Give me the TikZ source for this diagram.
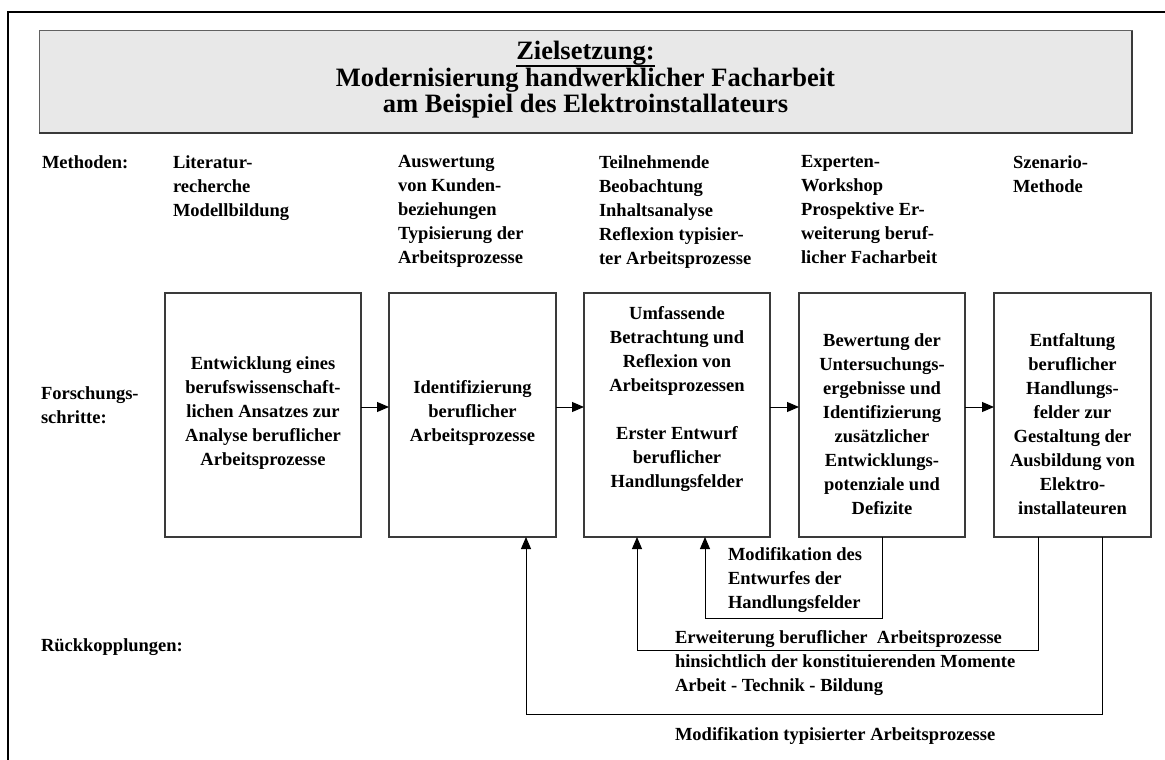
\documentclass[tikz,border=0pt]{standalone}
\usepackage{fontspec}
\setmainfont{Liberation Serif}
\usetikzlibrary{arrows.meta}
\definecolor{titlefill}{HTML}{E8E8E8}
\definecolor{edge}{HTML}{3A3A3A}
% underline drawn just below the descenders, without adding depth
\newcommand{\goalrule}[1]{{\setbox0\hbox{#1}\rlap{\rule[-6.8pt]{\wd0}{1.3pt}}\box0}}
\begin{document}
\begin{tikzpicture}[x=1pt,y=-1pt,
  every node/.style={inner sep=0pt, outer sep=0pt},
  lbl/.style={font=\fontsize{18.5}{24}\selectfont\bfseries, align=left, anchor=north west},
  boxtext/.style={font=\fontsize{18.5}{24}\selectfont\bfseries, align=center, anchor=north},
  stepbox/.style={draw=edge, line width=1.2pt, rectangle, anchor=north west, minimum height=244pt},
  tip/.style={-{Triangle[length=12pt,width=10pt]}},
  link/.style={line width=1pt, tip},
  fb/.style={line width=0.9pt, tip}
]
\useasboundingbox (0,0) rectangle (1165,760);

% outer frame (runs past the right and bottom edges)
\draw[line width=2pt] (8,775) -- (8,12) -- (1180,12);

% goal banner
\node[draw=edge!80, line width=1pt, fill=titlefill, minimum width=1093pt, minimum height=102pt, anchor=north west] (goal) at (39,31) {};
\draw[line width=2pt, edge] (goal.south west) -- (goal.south east) -- (goal.north east);
\node[font=\fontsize{26.5}{26.5}\selectfont\bfseries, align=center] (goaltext) at (585.5,80)
  {\goalrule{Zielsetzung:}\\Modernisierung handwerklicher Facharbeit\\am Beispiel des Elektroinstallateurs};

% row labels
\node[lbl] (m0) at (42,155.5) {Methoden:};
\node[lbl] (fs) at (41,386.5) {Forschungs-\\schritte:};
\node[lbl] (rk) at (41,638.5) {Rückkopplungen:};

% methods per step
\node[lbl] (m1) at (173,155.5) {Literatur-\\recherche\\Modellbildung};
\node[lbl] (m2) at (398,155.5) {Auswertung\\von Kunden-\\beziehungen\\Typisierung der\\Arbeitsprozesse};
\node[lbl] (m3) at (599,155.5) {Teilnehmende\\Beobachtung\\Inhaltsanalyse\\Reflexion typisier-\\ter Arbeitsprozesse};
\node[lbl] (m4) at (801,155.5) {Experten-\\Workshop\\Prospektive Er-\\weiterung beruf-\\licher Facharbeit};
\node[lbl] (m5) at (1013,155.5) {Szenario-\\Methode};

% research steps
\node[stepbox, minimum width=196pt] (s1) at (165,293) {};
\node[stepbox, minimum width=167pt] (s2) at (389,293) {};
\node[stepbox, minimum width=186pt] (s3) at (584,293) {};
\node[stepbox, minimum width=166pt] (s4) at (799,293) {};
\node[stepbox, minimum width=157pt] (s5) at (994,293) {};

\node[boxtext] (t1) at (263,356.5) {Entwicklung eines\\berufswissenschaft-\\lichen Ansatzes zur\\Analyse beruflicher\\Arbeitsprozesse};
\node[boxtext] (t2) at (472.5,380.5) {Identifizierung\\beruflicher\\Arbeitsprozesse};
\node[boxtext] (t3) at (677,306.5) {Umfassende\\Betrachtung und\\Reflexion von\\Arbeitsprozessen\\[24pt]Erster Entwurf\\beruflicher\\Handlungsfelder};
\node[boxtext] (t4) at (882,333.5) {Bewertung der\\Untersuchungs-\\ergebnisse und\\Identifizierung\\zusätzlicher\\Entwicklungs-\\potenziale und\\Defizite};
\node[boxtext] (t5) at (1072.5,333.5) {Entfaltung\\beruflicher\\Handlungs-\\felder zur\\Gestaltung der\\Ausbildung von\\Elektro-\\installateuren};

% forward links
\draw[link] ([yshift=8pt]s1.east) -- ([yshift=8pt]s2.west);
\draw[link] ([yshift=8pt]s2.east) -- ([yshift=8pt]s3.west);
\draw[link] ([yshift=8pt]s3.east) -- ([yshift=8pt]s4.west);
\draw[link] ([yshift=8pt]s4.east) -- ([yshift=8pt]s5.west);

% feedback loops
\coordinate (c1) at (705,618);
\coordinate (c2) at (637,650);
\coordinate (e2) at (1038,650);
\coordinate (c3) at (526,714);
\coordinate (e3) at (1102,714);
\draw[fb] (s4.south) |- (c1) -- (c1 |- s3.south);
\draw[fb] (e2 |- s5.south) -- (e2) -- (c2) -- (c2 |- s3.south);
\draw[fb] (e3 |- s5.south) -- (e3) -- (c3) -- (c3 |- s2.south);

% feedback labels
\node[lbl] (l1) at (728,547) {Modifikation des\\Entwurfes der\\Handlungsfelder};
\node[lbl] (l2) at (675,630) {Erweiterung beruflicher\ \ Arbeitsprozesse\\hinsichtlich der konstituierenden Momente\\Arbeit - Technik - Bildung};
\node[lbl] (l3) at (675,727.5) {Modifikation typisierter Arbeitsprozesse};
\end{tikzpicture}
\end{document}
